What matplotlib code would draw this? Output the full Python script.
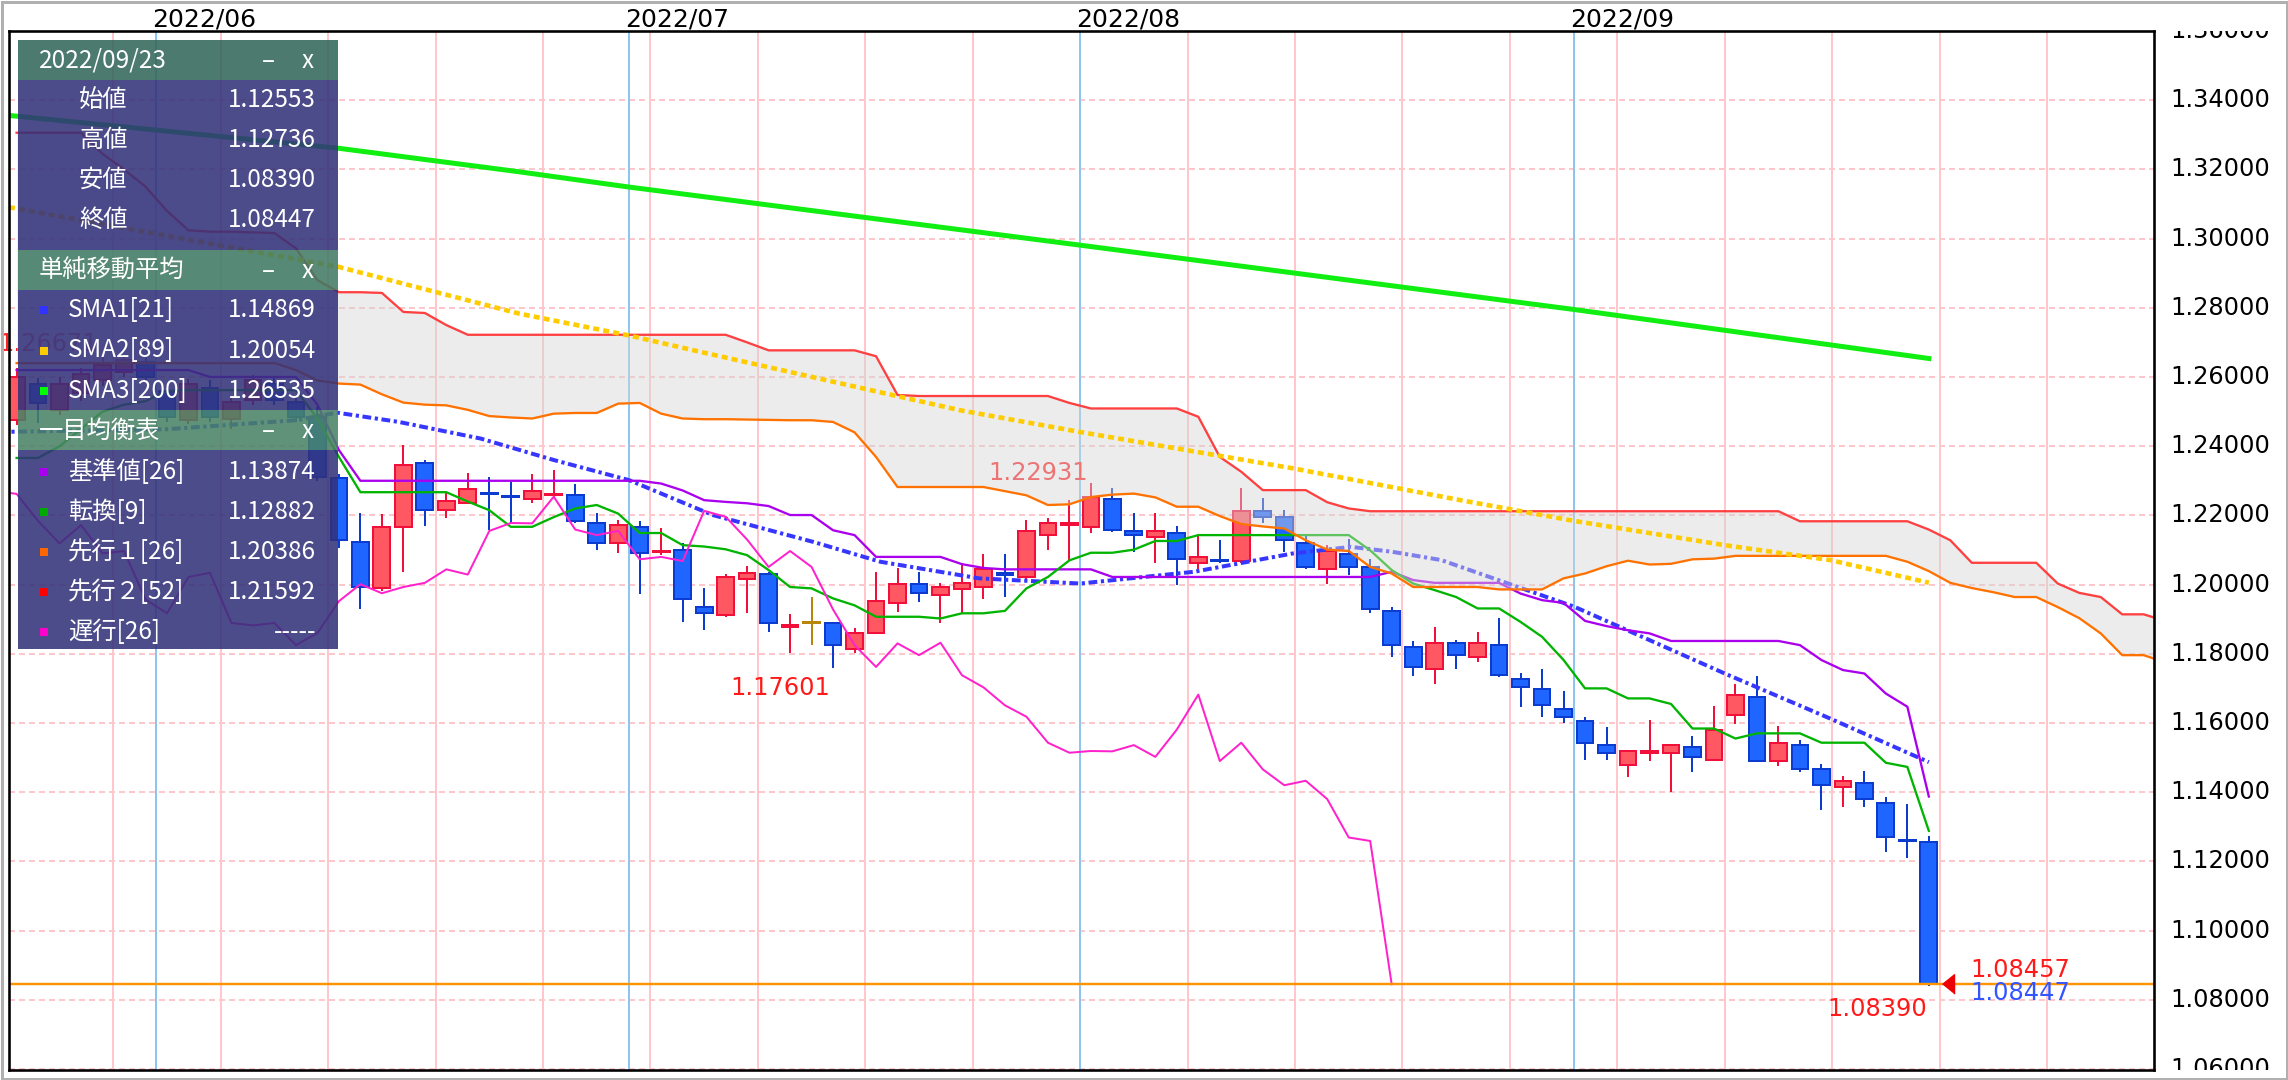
import matplotlib
matplotlib.use("Agg")
import matplotlib.pyplot as plt
import numpy as np
from matplotlib.patches import Rectangle

plt.rcParams['font.family'] = ['DejaVu Sans']

# daily EUR/USD bars, index 0 = 2022/05/23 (weekdays only)
opens = [1.2476, 1.2581, 1.2504, 1.2553, 1.2591, 1.2614, 1.2643, 1.2560, 1.2476, 1.2568,
         1.2480, 1.2533, 1.2581, 1.2527, 1.2484, 1.2308, 1.2122, 1.1990, 1.2166, 1.2351,
         1.2217, 1.2235, 1.2265, 1.2257, 1.2247, 1.2259, 1.2258, 1.2177, 1.2119, 1.2167,
         1.2093, 1.2099, 1.1936, 1.1912, 1.2016, 1.2030, 1.1878, 1.1889, 1.1889, 1.1815,
         1.1860, 1.1947, 1.2001, 1.1969, 1.1987, 1.1992, 1.2033, 1.2022, 1.2143, 1.2173,
         1.2165, 1.2248, 1.2155, 1.2138, 1.2149, 1.2063, 1.2072, 1.2068, 1.2213, 1.2196,
         1.2121, 1.2044, 1.2087, 1.2051, 1.1924, 1.1820, 1.1757, 1.1832, 1.1791, 1.1825,
         1.1727, 1.1698, 1.1640, 1.1606, 1.1536, 1.1478, 1.1514, 1.1514, 1.1531, 1.1494,
         1.1622, 1.1675, 1.1490, 1.1536, 1.1466, 1.1414, 1.1427, 1.1369, 1.1263, 1.12553]
highs = [1.2625, 1.2596, 1.2600, 1.2625, 1.26671, 1.2660, 1.2655, 1.2575, 1.2595, 1.2590,
         1.2540, 1.2605, 1.2600, 1.2545, 1.2512, 1.2320, 1.2206, 1.2203, 1.2403, 1.2360,
         1.2264, 1.2322, 1.2311, 1.2297, 1.2319, 1.2331, 1.2290, 1.2207, 1.2186, 1.2183,
         1.2163, 1.2119, 1.1990, 1.2030, 1.2053, 1.2036, 1.1914, 1.1964, 1.1889, 1.1874,
         1.2036, 1.2048, 1.2037, 1.2004, 1.2063, 1.2088, 1.2088, 1.2186, 1.2193, 1.2244,
         1.22931, 1.2278, 1.2207, 1.2207, 1.2169, 1.2140, 1.2128, 1.2278, 1.2249, 1.2215,
         1.2143, 1.2114, 1.2133, 1.2073, 1.1936, 1.1837, 1.1878, 1.1839, 1.1862, 1.1902,
         1.1745, 1.1757, 1.1693, 1.1618, 1.1589, 1.1519, 1.1609, 1.1536, 1.1562, 1.1649,
         1.1712, 1.1735, 1.1591, 1.1550, 1.1480, 1.1446, 1.1462, 1.1386, 1.1365, 1.12736]
lows = [1.2460, 1.2466, 1.2490, 1.2530, 1.2575, 1.2600, 1.2590, 1.2470, 1.2465, 1.2470,
        1.2450, 1.2520, 1.2520, 1.2470, 1.2300, 1.2105, 1.1928, 1.1980, 1.2036, 1.2169,
        1.2193, 1.2235, 1.2157, 1.2177, 1.2235, 1.2250, 1.2177, 1.2099, 1.2091, 1.1974,
        1.2085, 1.1892, 1.1868, 1.1906, 1.1917, 1.1863, 1.1801, 1.1825, 1.17601, 1.1801,
        1.1860, 1.1921, 1.1950, 1.1888, 1.1917, 1.1958, 1.1963, 1.2013, 1.2099, 1.2070,
        1.2148, 1.2152, 1.2095, 1.2061, 1.1998, 1.2044, 1.2061, 1.2061, 1.2177, 1.2095,
        1.2044, 1.2003, 1.2027, 1.1917, 1.1791, 1.1735, 1.1714, 1.1755, 1.1777, 1.1733,
        1.1645, 1.1616, 1.1599, 1.1494, 1.1494, 1.1443, 1.1489, 1.1401, 1.1459, 1.1494,
        1.1597, 1.1490, 1.1475, 1.1459, 1.1348, 1.1356, 1.1356, 1.1227, 1.1211, 1.08390]
closes = [1.2601, 1.2526, 1.2581, 1.2610, 1.2634, 1.2648, 1.2600, 1.2484, 1.2580, 1.2484,
          1.2527, 1.2591, 1.2533, 1.2484, 1.2311, 1.2130, 1.1992, 1.2166, 1.2345, 1.2217,
          1.2241, 1.2276, 1.2261, 1.2253, 1.2271, 1.2262, 1.2184, 1.2119, 1.2172, 1.2090,
          1.2097, 1.1957, 1.1917, 1.2022, 1.2034, 1.1889, 1.1882, 1.1889, 1.1825, 1.1860,
          1.1952, 1.2001, 1.1975, 1.1993, 1.2005, 1.2044, 1.2029, 1.2155, 1.2178, 1.2177,
          1.2254, 1.2159, 1.2143, 1.2155, 1.2073, 1.2080, 1.2068, 1.2213, 1.2196, 1.2130,
          1.2051, 1.2097, 1.2051, 1.1928, 1.1825, 1.1762, 1.1830, 1.1796, 1.1832, 1.1738,
          1.1703, 1.1651, 1.1618, 1.1543, 1.1514, 1.1519, 1.1518, 1.1536, 1.1502, 1.1581,
          1.1682, 1.1490, 1.1543, 1.1466, 1.1420, 1.1433, 1.1380, 1.1269, 1.1259, 1.08447]

# moving averages read at sample bars
sma21_x = [-1, 7, 13, 14.9, 17.8, 21.6, 25, 28.5, 32.4, 37.1, 40.2, 44.8, 49.5, 54.8,
           59.4, 62.1, 64, 66.3, 72.5, 79.5, 84.4, 89]
sma21_y = [1.2441, 1.2449, 1.2475, 1.2497, 1.2470, 1.2422, 1.2360, 1.2302, 1.2201, 1.2123,
           1.2066, 1.2018, 1.2003, 1.2037, 1.2090, 1.2109, 1.2095, 1.2071, 1.1936, 1.1743,
           1.1613, 1.14869]
sma89_x = [-1, 15, 23.4, 28.5, 31.8, 43.9, 49.5, 54.5, 59.4, 67.2, 72.5, 79.5, 84.4, 89]
sma89_y = [1.3098, 1.2918, 1.2783, 1.2720, 1.2673, 1.2504, 1.2441, 1.2388, 1.2336, 1.2244,
           1.2184, 1.2114, 1.2071, 1.20054]
sma200_x = [-1, 15, 23.4, 28.5, 49.5, 72.5, 89]
sma200_y = [1.3360, 1.3261, 1.3193, 1.3149, 1.2981, 1.2795, 1.26535]

# ichimoku, one value per bar
kijun = [1.2620, 1.2620, 1.2620, 1.2620, 1.2620, 1.2620, 1.2620, 1.2620, 1.2620, 1.2600,
         1.2600, 1.2600, 1.2600, 1.2600, 1.2520, 1.2389, 1.2300, 1.2300, 1.2300, 1.2300,
         1.2300, 1.2300, 1.2300, 1.2300, 1.2300, 1.2300, 1.2300, 1.2300, 1.2300, 1.2300,
         1.2292, 1.2272, 1.2244, 1.2239, 1.2235, 1.2227, 1.2201, 1.2201, 1.2157, 1.2143,
         1.2080, 1.2080, 1.2080, 1.2080, 1.2059, 1.2048, 1.2044, 1.2044, 1.2044, 1.2044,
         1.2044, 1.2022, 1.2022, 1.2022, 1.2022, 1.2022, 1.2022, 1.2022, 1.2022, 1.2022,
         1.2022, 1.2022, 1.2022, 1.2022, 1.2037, 1.2013, 1.2005, 1.2005, 1.2005, 1.2005,
         1.1974, 1.1955, 1.1947, 1.1895, 1.1880, 1.1868, 1.1859, 1.1837, 1.1837, 1.1837,
         1.1837, 1.1837, 1.1837, 1.1825, 1.1782, 1.1753, 1.1743, 1.1685, 1.1647, 1.13874]
tenkan = [1.2366, 1.2366, 1.2400, 1.2450, 1.2500, 1.2520, 1.2530, 1.2560, 1.2562, 1.2562,
          1.2562, 1.2562, 1.2562, 1.2562, 1.2480, 1.2369, 1.2267, 1.2267, 1.2267, 1.2267,
          1.2267, 1.2240, 1.2215, 1.2167, 1.2167, 1.2195, 1.2220, 1.2230, 1.2205, 1.2149,
          1.2149, 1.2114, 1.2110, 1.2102, 1.2085, 1.2042, 1.1993, 1.1989, 1.1960, 1.1940,
          1.1907, 1.1907, 1.1907, 1.1902, 1.1917, 1.1917, 1.1924, 1.1989, 1.2022, 1.2070,
          1.2092, 1.2092, 1.2101, 1.2126, 1.2126, 1.2143, 1.2143, 1.2143, 1.2143, 1.2143,
          1.2143, 1.2143, 1.2143, 1.2099, 1.2042, 1.2003, 1.1984, 1.1964, 1.1931, 1.1931,
          1.1892, 1.1849, 1.1782, 1.1700, 1.1700, 1.1671, 1.1671, 1.1655, 1.1584, 1.1584,
          1.1555, 1.1570, 1.1570, 1.1570, 1.1543, 1.1543, 1.1543, 1.1485, 1.1473, 1.12882]
# leading spans as drawn (already shifted), bars 0..100
senkou_a = [1.2640, 1.2640, 1.2640, 1.2640, 1.2640, 1.2640, 1.2640, 1.2640, 1.2640, 1.2640,
            1.2640, 1.2640, 1.2640, 1.2620, 1.2590, 1.2581, 1.2578, 1.2550, 1.2526, 1.2520,
            1.2518, 1.2505, 1.2487, 1.2483, 1.2480, 1.2494, 1.2496, 1.2496, 1.2523, 1.2525,
            1.2494, 1.2480, 1.2478, 1.2478, 1.2477, 1.2476, 1.2475, 1.2475, 1.2470, 1.2440,
            1.2369, 1.2282, 1.2282, 1.2282, 1.2282, 1.2282, 1.2270, 1.2258, 1.2230, 1.2232,
            1.2253, 1.2260, 1.2263, 1.2252, 1.2225, 1.2225, 1.2198, 1.2175, 1.2168, 1.2162,
            1.2128, 1.2101, 1.2097, 1.2051, 1.2032, 1.1993, 1.1993, 1.1993, 1.1993, 1.1986,
            1.1986, 1.1986, 1.2018, 1.2032, 1.2053, 1.2069, 1.2058, 1.2060, 1.2073, 1.2075,
            1.2083, 1.2083, 1.2083, 1.2083, 1.2083, 1.2083, 1.2083, 1.2083, 1.2066, 1.2039,
            1.2005, 1.1990, 1.1978, 1.1964, 1.1964, 1.1935, 1.1903, 1.1859, 1.1796, 1.1796,
            1.1775]
senkou_b = [1.3306, 1.3306, 1.3306, 1.3306, 1.3245, 1.3200, 1.3150, 1.3080, 1.3024, 1.3020,
            1.3020, 1.3018, 1.3016, 1.2972, 1.2880, 1.2845, 1.2845, 1.2843, 1.2788, 1.2785,
            1.2750, 1.2722, 1.2722, 1.2722, 1.2722, 1.2722, 1.2722, 1.2722, 1.2722, 1.2722,
            1.2722, 1.2722, 1.2722, 1.2722, 1.2700, 1.2677, 1.2677, 1.2677, 1.2677, 1.2677,
            1.2660, 1.2548, 1.2545, 1.2545, 1.2545, 1.2545, 1.2545, 1.2545, 1.2545, 1.2525,
            1.2509, 1.2509, 1.2509, 1.2509, 1.2509, 1.2485, 1.2369, 1.2326, 1.2273, 1.2273,
            1.2273, 1.2238, 1.2220, 1.2212, 1.2212, 1.2212, 1.2212, 1.2212, 1.2212, 1.2212,
            1.2212, 1.2212, 1.2212, 1.2212, 1.2212, 1.2212, 1.2212, 1.2212, 1.2212, 1.2212,
            1.2212, 1.2212, 1.2212, 1.2183, 1.2183, 1.2183, 1.2183, 1.2183, 1.2183, 1.2159,
            1.2128, 1.2063, 1.2063, 1.2063, 1.2063, 1.2003, 1.1976, 1.1964, 1.1914, 1.1914,
            1.1895]
chikou_shift = 25

month_labels = ['2022/06', '2022/07', '2022/08', '2022/09']
month_idx = [7, 29, 50, 73]
monday_idx = [5, 10, 15, 20, 25, 30, 35, 40, 45, 50, 55, 60, 65, 70, 75, 80, 85, 90, 95]
yticks = [1.06, 1.08, 1.10, 1.12, 1.14, 1.16, 1.18, 1.20, 1.22, 1.24, 1.26, 1.28, 1.30, 1.32, 1.34, 1.36]

ask_price = 1.08457
bid_price = 1.08447
legend_date = '2022/09/23'
sma_names = ['SMA1[21]', 'SMA2[89]', 'SMA3[200]']
sma_values = ['1.14869', '1.20054', '1.26535']
ichi_names = ['基準値[26]', '転換[9]', '先行１[26]', '先行２[52]', '遅行[26]']
ichi_values = ['1.13874', '1.12882', '1.20386', '1.21592', '-----']

# ---------------------------------------------------------------------------
W, H = 2288, 1080
PX = 0.72  # points per pixel at dpi 100
fig = plt.figure(figsize=(W / 100, H / 100), dpi=100)
fig.patch.set_facecolor('white')

left, right, top, bottom = 8.7, 2154, 31, 1070
ax = fig.add_axes([left / W, 1 - bottom / H, (right - left) / W, (bottom - top) / H])
ax.set_xlim(-0.368, 99.48)
ax.set_ylim(1.0597, 1.3600)
ax.set_xticks([])
ax.set_yticks([])
for s in ax.spines.values():
    s.set_linewidth(2.6 * PX)
    s.set_color('black')
    s.set_zorder(20)

# grid
for y in yticks:
    ax.axhline(y, color='#ffc6cb', lw=2 * PX, ls=(0, (3, 2)), zorder=0.5)
for m in monday_idx:
    ax.axvline(m - 0.5, color='#ffc6cb', lw=2 * PX, zorder=0.6)
for m in month_idx:
    ax.axvline(m - 0.5, color='#8cc6f0', lw=2 * PX, zorder=0.7)

# candles
n = len(closes)
xs = np.arange(n)
o = np.array(opens); h = np.array(highs); l = np.array(lows); c = np.array(closes)
fills, edges = [], []
for oi, ci in zip(o, c):
    if ci > oi:
        fills.append('#ff5862'); edges.append('#f2103a')
    elif ci < oi:
        fills.append('#1e66ff'); edges.append('#0b3ccf')
    else:
        fills.append('#b8860b'); edges.append('#b8860b')
ax.vlines(xs, l, h, colors=edges, lw=2 * PX, zorder=1.9)
body_lo = np.minimum(o, c)
body_h = np.maximum(np.abs(c - o), 0.0003)
ax.bar(xs, body_h, bottom=body_lo, width=0.78, color=fills, edgecolor=edges,
       linewidth=2 * PX, zorder=2)

# high / low labels
lab_font = 17.4
ax.annotate('1.26671', (4, highs[4]), xytext=(-3, 2), textcoords='offset points',
            ha='right', va='baseline', color='#ff2424', fontsize=lab_font, zorder=2.5)
ax.annotate('1.22931', (50, highs[50]), xytext=(-2, 2), textcoords='offset points',
            ha='right', va='baseline', color='#ff2424', fontsize=lab_font, zorder=2.5)
ax.annotate('1.17601', (38, lows[38]), xytext=(-2, -6), textcoords='offset points',
            ha='right', va='top', color='#ff1a1a', fontsize=lab_font, zorder=7)
ax.annotate('1.08390', (89, lows[89]), xytext=(-1, -8), textcoords='offset points',
            ha='right', va='top', color='#ff1a1a', fontsize=lab_font, zorder=7)

# lines under the cloud
ax.plot(sma21_x, sma21_y, color='#3636ff', lw=4 * PX, ls=(0, (2.2, 0.9, 0.8, 0.9)), zorder=3)
ax.plot(np.arange(n), kijun, color='#aa00ee', lw=2.3 * PX, zorder=3)
ax.plot(np.arange(n), tenkan, color='#00b400', lw=2.3 * PX, zorder=3)
ax.plot(np.arange(n)[chikou_shift - 1:] - chikou_shift, closes[chikou_shift - 1:],
        color='#ff22cc', lw=2 * PX, zorder=3)

# cloud
cx = np.arange(len(senkou_a))
ax.fill_between(cx, senkou_a, senkou_b, color='#d6d6d6', alpha=0.45, lw=0, zorder=4)
ax.plot(cx, senkou_a, color='#ff7200', lw=2.3 * PX, zorder=5)
ax.plot(cx, senkou_b, color='#ff4040', lw=2.3 * PX, zorder=5)

ax.plot(sma89_x, sma89_y, color='#ffcc00', lw=4.6 * PX, ls=(0, (1.3, 0.9)), zorder=5)
ax.plot(sma200_x, sma200_y, color='#11ee11', lw=5 * PX, zorder=5)

# current price line and tags
ax.axhline(bid_price, color='#ff9400', lw=2.4 * PX, zorder=6)
ax.plot([89.9], [ask_price], marker=[(-0.62, 0), (0.62, 1), (0.62, -1)], ms=14,
        color='#ee0000', mec='#ee0000', zorder=7, clip_on=False)
ax.annotate(f'{ask_price:.5f}', (89, ask_price), xytext=(30.2, 10), textcoords='offset points',
            ha='left', va='center', color='#ff1a1a', fontsize=lab_font, zorder=7)
ax.annotate(f'{bid_price:.5f}', (89, bid_price), xytext=(30.2, -6.5), textcoords='offset points',
            ha='left', va='center', color='#3355ff', fontsize=lab_font, zorder=7)

# month labels on top
for lab, m in zip(month_labels, month_idx):
    ax.annotate(lab, (m - 0.5, 1), xycoords=('data', 'axes fraction'),
                xytext=(-3, 8.5), textcoords='offset points', ha='left', va='center',
                fontsize=18, color='black', annotation_clip=False)

# price axis labels (clipped to plot height)
lab_ax = fig.add_axes([right / W, 1 - bottom / H, (W - right) / W, (bottom - top) / H])
lab_ax.set_xlim(0, W - right)
lab_ax.set_ylim(ax.get_ylim())
lab_ax.axis('off')
for y in yticks:
    lab_ax.text(16, y, f'{y:.5f}', ha='left', va='center', fontsize=lab_font,
                color='black', clip_on=True)

# info panel overlay (pixel coordinates)
ov = fig.add_axes([0, 0, 1, 1], zorder=10)
ov.set_xlim(0, W)
ov.set_ylim(H, 0)
ov.axis('off')
jp = ['Noto Sans CJK JP', 'DejaVu Sans']
pfs = 17.5
px0, pw = 18, 320
alpha = 0.87
body_col = '#32317a'


def header(y0, text, col):
    ov.add_patch(Rectangle((px0, y0), pw, 40, color=col, alpha=alpha, lw=0))
    ov.text(39, y0 + 21, text, color='white', fontsize=pfs, family=jp, va='center')
    ov.text(268, y0 + 21, '–', color='white', fontsize=pfs, family=jp, va='center', ha='center')
    ov.text(308, y0 + 21, 'x', color='white', fontsize=pfs, family=jp, va='center', ha='center')


header(40, legend_date, '#31665a')
ov.add_patch(Rectangle((px0, 80), pw, 170, color=body_col, alpha=alpha, lw=0))
for k, (name, val) in enumerate(zip(['始値', '高値', '安値', '終値'],
                                    [opens[-1], highs[-1], lows[-1], closes[-1]])):
    yy = 100 + 40 * k
    ov.text(79, yy, name, color='white', fontsize=pfs, family=jp, va='center')
    ov.text(316, yy, f'{val:.5f}', color='white', fontsize=pfs, family=jp, va='center', ha='right')

header(250, '単純移動平均', '#407a64')
ov.add_patch(Rectangle((px0, 290), pw, 120, color=body_col, alpha=alpha, lw=0))
for k, (name, val, col) in enumerate(zip(sma_names, sma_values, ['#3333ff', '#ffcc00', '#00ff00'])):
    yy = 310 + 40.5 * k
    ov.add_patch(Rectangle((40, yy - 4), 8, 8, color=col, lw=0))
    ov.text(68, yy, name, color='white', fontsize=pfs, family=jp, va='center')
    ov.text(316, yy, val, color='white', fontsize=pfs, family=jp, va='center', ha='right')

header(410, '一目均衡表', '#488165')
ov.add_patch(Rectangle((px0, 450), pw, 199, color=body_col, alpha=alpha, lw=0))
for k, (name, val, col) in enumerate(zip(ichi_names, ichi_values,
                                         ['#aa00ee', '#00aa00', '#ff6600', '#ff0000', '#ff00cc'])):
    yy = 472 + 40 * k
    ov.add_patch(Rectangle((40, yy - 4), 8, 8, color=col, lw=0))
    ov.text(68, yy, name, color='white', fontsize=pfs, family=jp, va='center')
    ov.text(316, yy, val, color='white', fontsize=pfs, family=jp, va='center', ha='right')

# outer frame
ov.add_patch(Rectangle((1.5, 1.5), W - 3, H - 3, fill=False, ec='#b0b0b0', lw=3 * PX, clip_on=False))

fig.savefig('out.png', dpi=100)
